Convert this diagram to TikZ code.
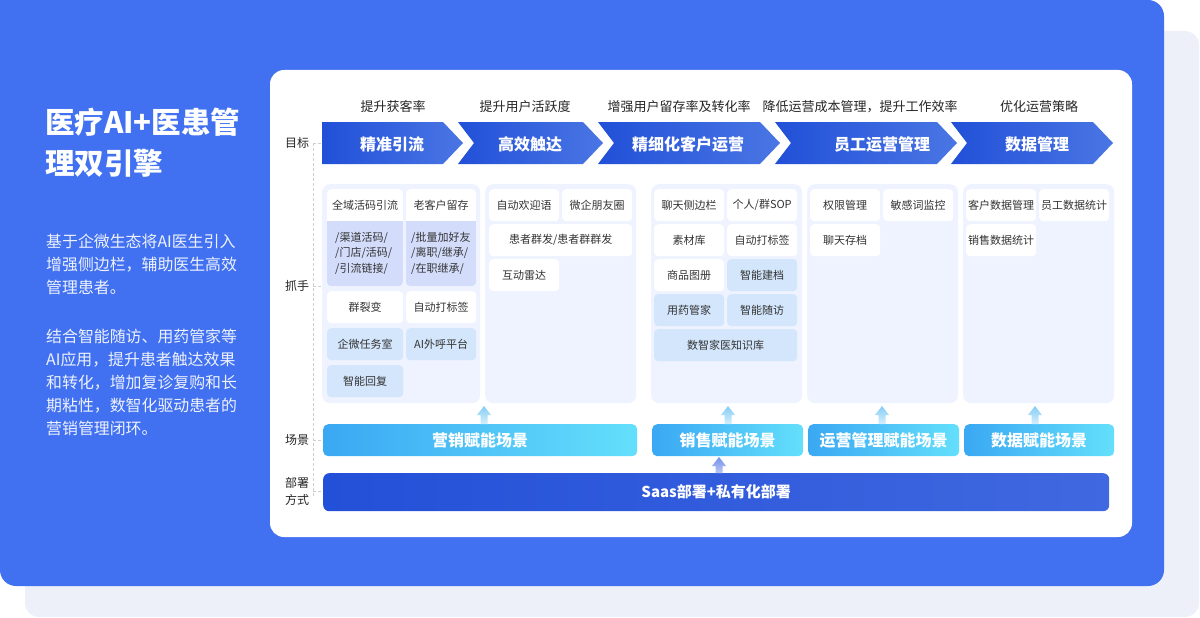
\documentclass[tikz,border=0pt]{standalone}
\usepackage{fontspec}
\setmainfont{Noto Sans CJK SC}
\usetikzlibrary{calc}
\definecolor{bgblue}{HTML}{4171F1}
\definecolor{shadowc}{HTML}{EDF0F8}
\definecolor{panelc}{HTML}{EEF3FF}
\definecolor{lavc}{HTML}{D3DDFB}
\definecolor{lbluec}{HTML}{D3E6FC}
\definecolor{txt}{HTML}{333333}
\definecolor{chevL}{HTML}{2150D8}
\definecolor{chevR}{HTML}{4A76E4}
\definecolor{sceneL}{HTML}{3AA8F3}
\definecolor{sceneR}{HTML}{64DFFB}
\definecolor{depL}{HTML}{2350D8}
\definecolor{depR}{HTML}{4068E0}
\definecolor{dashc}{HTML}{CFCFCF}
\definecolor{paratxt}{HTML}{EEF2FF}
\definecolor{arrT}{HTML}{86CDF5}
\definecolor{arrB}{HTML}{D4EFFC}
\definecolor{darrT}{HTML}{7491EB}
\definecolor{darrB}{HTML}{B9C9F6}
\newcommand\myarrow[6]{%
  \shade[top color=#5, bottom color=#6] (#2,#3) -- (#2+7,#3+9) -- (#2+3.5,#3+9) -- (#2+3.5,#4) -- (#2-3.5,#4) -- (#2-3.5,#3+9) -- (#2-7,#3+9) -- cycle;}
\tikzset{
  titletxt/.style={anchor=base west, text=white, inner sep=0pt, font=\fontsize{29.5}{32}\selectfont\bfseries},
  paratxt/.style={anchor=base west, text=paratxt, inner sep=0pt, font=\fontsize{15.9}{18}\selectfont},
  goal/.style={text=black!85, inner sep=0pt, font=\fontsize{13}{15}\selectfont},
  chevtxt/.style={text=white, inner sep=0pt, font=\fontsize{16}{18}\selectfont\bfseries},
  rowlab/.style={text=black!85, inner sep=0pt, font=\fontsize{12}{14}\selectfont},
  panel/.style={anchor=north west, fill=panelc, rounded corners=8pt, inner sep=0pt, minimum width=151pt, minimum height=219pt},
  wbox/.style={anchor=north west, fill=white, rounded corners=4pt, inner sep=0pt, minimum width=70pt, minimum height=32pt, text=txt, font=\fontsize{11}{13}\selectfont},
  lbox/.style={wbox, fill=lbluec},
  btxt/.style={text=txt, inner sep=0pt, font=\fontsize{11}{13}\selectfont},
  subtxt/.style={anchor=west, text=txt, inner sep=0pt, align=left, font=\fontsize{11}{15.5}\selectfont},
  scene/.style={anchor=north west, rounded corners=5pt, inner sep=0pt, minimum height=32pt, left color=sceneL, right color=sceneR, text=white, font=\fontsize{16}{18}\selectfont\bfseries},
  dashline/.style={draw=dashc, line width=0.9pt, dash pattern=on 3pt off 2pt},
}
\begin{document}
\begin{tikzpicture}[x=1pt,y=-1pt]
\useasboundingbox (0,0) rectangle (1200,618);
% backgrounds
\fill[shadowc, rounded corners=14pt] (25,31) rectangle (1199,617);
\fill[bgblue, rounded corners=16pt] (0,0) rectangle (1164,586);
\fill[bgblue] (0,0) rectangle (30,30);
\fill[white, rounded corners=14pt] (270,70) rectangle (1132,537);

% left text
\node[titletxt] (t1) at (45,133) {医疗AI+医患管};
\node[titletxt] (t2) at (45,174) {理双引擎};
\node[paratxt] (p1a) at (46,247) {基于企微生态将AI医生引入};
\node[paratxt] (p1b) at (46,270) {增强侧边栏，辅助医生高效};
\node[paratxt] (p1c) at (46,293) {管理患者。};
\node[paratxt] (p2a) at (46,342) {结合智能随访、用药管家等};
\node[paratxt] (p2b) at (46,365) {AI应用，提升患者触达效果};
\node[paratxt] (p2c) at (46,388) {和转化，增加复诊复购和长};
\node[paratxt] (p2d) at (46,411) {期粘性，数智化驱动患者的};
\node[paratxt] (p2e) at (46,434) {营销管理闭环。};

% row labels and dashed guide
\node[rowlab] (l1) at (297,143) {目标};
\node[rowlab] (l2) at (297,286) {抓手};
\node[rowlab] (l3) at (297,440) {场景};
\node[rowlab] (l4a) at (297,483) {部署};
\node[rowlab] (l4b) at (297,500) {方式};
\coordinate (dtop) at (313,143);
\coordinate (dbot) at (313,497);
\draw[dashline] (dtop) -- (dbot);
\draw[dashline] (dtop) -- (321,143);
\draw[dashline] (313,286) -- (321,286);
\draw[dashline] (313,440) -- (321,440);
\draw[dashline] (313,491) -- (321,491);

% goals
\node[goal] (g1) at (393,107) {提升获客率};
\node[goal] (g2) at (525,107) {提升用户活跃度};
\node[goal] (g3) at (679,107) {增强用户留存率及转化率};
\node[goal] (g4) at (860,107) {降低运营成本管理，提升工作效率};
\node[goal] (g5) at (1039,107) {优化运营策略};

% chevrons
\shade[left color=chevL, right color=chevR] (322,122) -- (443,122) -- (463,143) -- (443,164) -- (322,164) -- cycle;
\shade[left color=chevL, right color=chevR] (458,122) -- (583,122) -- (603,143) -- (583,164) -- (458,164) -- (474,143) -- cycle;
\shade[left color=chevL, right color=chevR] (598,122) -- (760,122) -- (780,143) -- (760,164) -- (598,164) -- (614,143) -- cycle;
\shade[left color=chevL, right color=chevR] (775,122) -- (937,122) -- (957,143) -- (937,164) -- (775,164) -- (791,143) -- cycle;
\shade[left color=chevL, right color=chevR] (951,122) -- (1093,122) -- (1113,143) -- (1093,164) -- (951,164) -- (967,143) -- cycle;
\node[chevtxt] (c1) at (392,144) {精准引流};
\node[chevtxt] (c2) at (530,144) {高效触达};
\node[chevtxt] (c3) at (688,144) {精细化客户运营};
\node[chevtxt] (c4) at (882,144) {员工运营管理};
\node[chevtxt] (c5) at (1037,144) {数据管理};

% panels
\node[panel, minimum width=158pt] (pa) at (322,184) {};
\node[panel] (pb) at (485,184) {};
\node[panel] (pc) at (651,184) {};
\node[panel] (pd) at (807,184) {};
\node[panel] (pe) at (963,184) {};

% panel 1
\begin{scope}
\clip[rounded corners=4pt] (327,189) rectangle (403,286);
\fill[lavc] (327,189) rectangle (403,286);
\fill[white] (327,189) rectangle (403,221);
\end{scope}
\begin{scope}
\clip[rounded corners=4pt] (406,189) rectangle (476,286);
\fill[lavc] (406,189) rectangle (476,286);
\fill[white] (406,189) rectangle (476,221);
\end{scope}
\node[btxt] (b11) at (365,205) {全域活码引流};
\node[subtxt] (b11s) at (335,253) {/渠道活码/\\/门店/活码/\\/引流链接/};
\node[btxt] (b12) at (441,205) {老客户留存};
\node[subtxt] (b12s) at (411,253) {/批量加好友\\/离职/继承/\\/在职继承/};
\node[wbox, minimum width=76pt] (b13) at (327,291) {群裂变};
\node[wbox] (b14) at (406,291) {自动打标签};
\node[lbox, minimum width=76pt] (b15) at (327,328) {企微任务室};
\node[lbox] (b16) at (406,328) {AI外呼平台};
\node[lbox, minimum width=76pt] (b17) at (327,365) {智能回复};

% panel 2
\node[wbox] (b21) at (489,189) {自动欢迎语};
\node[wbox] (b22) at (562,189) {微企朋友圈};
\node[wbox, minimum width=143pt] (b23) at (489,224) {患者群发/患者群群发};
\node[wbox] (b24) at (489,259) {互动雷达};

% panel 3
\node[wbox] (b31) at (654,189) {聊天侧边栏};
\node[wbox] (b32) at (727,189) {个人/群SOP};
\node[wbox] (b33) at (654,224) {素材库};
\node[wbox] (b34) at (727,224) {自动打标签};
\node[wbox] (b35) at (654,259) {商品图册};
\node[lbox] (b36) at (727,259) {智能建档};
\node[lbox] (b37) at (654,294) {用药管家};
\node[lbox] (b38) at (727,294) {智能随访};
\node[lbox, minimum width=143pt] (b39) at (654,329) {数智家医知识库};

% panel 4
\node[wbox] (b41) at (810,189) {权限管理};
\node[wbox] (b42) at (883,189) {敏感词监控};
\node[wbox] (b43) at (810,224) {聊天存档};

% panel 5
\node[wbox] (b51) at (966,189) {客户数据管理};
\node[wbox] (b52) at (1039,189) {员工数据统计};
\node[wbox] (b53) at (966,224) {销售数据统计};

% scenes
\node[scene, minimum width=314pt] (s1) at (323,424) {营销赋能场景};
\node[scene, minimum width=151pt] (s2) at (652,424) {销售赋能场景};
\node[scene, minimum width=151pt] (s3) at (808,424) {运营管理赋能场景};
\node[scene, minimum width=150pt] (s4) at (964,424) {数据赋能场景};

% deployment
\node[anchor=north west, rounded corners=6pt, inner sep=0pt, minimum width=786pt, minimum height=38pt, left color=depL, right color=depR, text=white, font=\fontsize{15}{17}\selectfont\bfseries] (dep) at (323,473) {Saas部署+私有化部署};

% arrows
\myarrow{a1}{484}{406}{424}{arrT}{arrB}
\myarrow{a2}{728}{406}{424}{arrT}{arrB}
\myarrow{a3}{882}{406}{424}{arrT}{arrB}
\myarrow{a4}{1035}{406}{424}{arrT}{arrB}
\myarrow{a5}{719}{457}{473}{darrT}{darrB}
\end{tikzpicture}
\end{document}
